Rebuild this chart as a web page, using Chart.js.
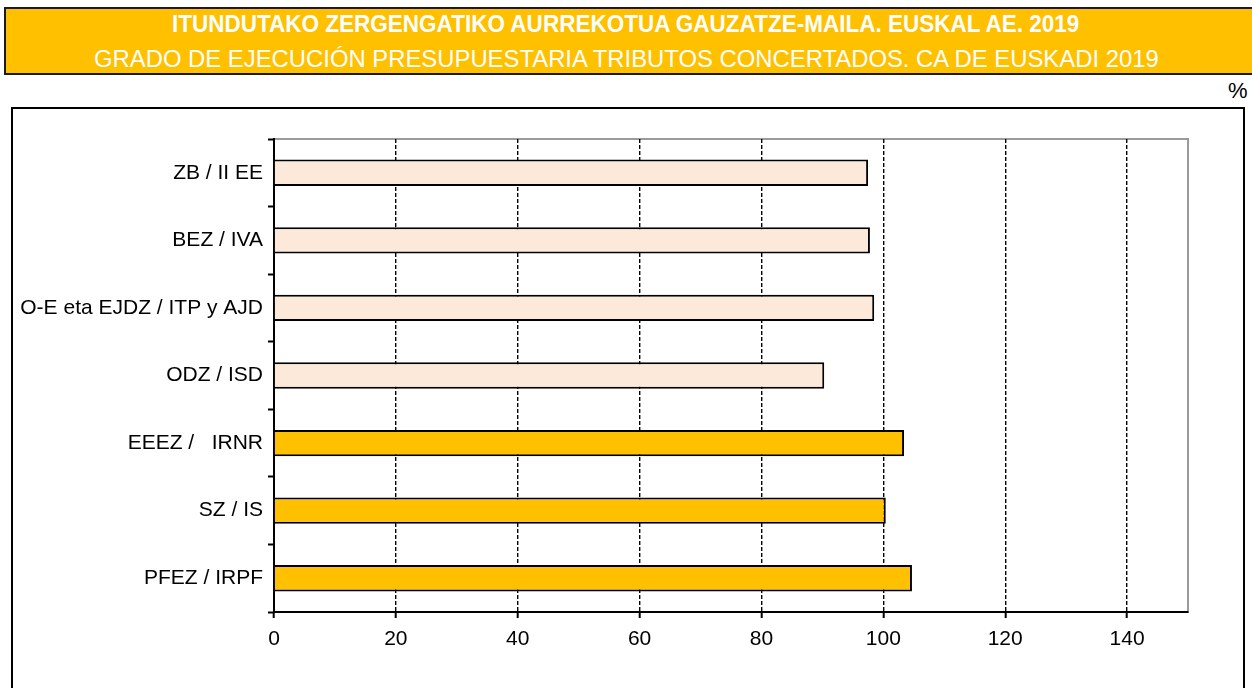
<!DOCTYPE html>
<html>
<head>
<meta charset="utf-8">
<script src="https://cdn.jsdelivr.net/npm/chart.js"></script>
<style>
    body { margin: 0; background: #fff; font-family: 'Liberation Sans', Arial, sans-serif; }
    #pagina { position: relative; width: 1252px; height: 688px; overflow: hidden; }
    #cabecera { position: absolute; left: 4px; top: 7px; width: 1260px; height: 64px;
        background: #FFC000; border: 2px solid #1a1a1a; }
    .titulo { position: absolute; left: 0; width: 1252px; text-align: center; color: #fff;
        font-size: 23px; line-height: 24px; white-space: nowrap; }
    .titulo span { display: inline-block; transform-origin: center; }
    #t1 { top: 12px; font-weight: bold; }
    #t2 { top: 47px; }
    #pct { position: absolute; left: 1228px; top: 78px; font-size: 22px; color: #000; }
    #marco { position: absolute; left: 11px; top: 107px; width: 1230px; height: 640px;
        border: 2px solid #000; }
    #miGrafico { position: absolute; left: 0; top: 0; }
</style>
</head>
<body>
<div id="pagina">
    <div id="cabecera"></div>
    <div class="titulo" id="t1"><span data-ancho="907">ITUNDUTAKO ZERGENGATIKO AURREKOTUA GAUZATZE-MAILA. EUSKAL AE. 2019</span></div>
    <div class="titulo" id="t2"><span data-ancho="1065">GRADO DE EJECUCIÓN PRESUPUESTARIA TRIBUTOS CONCERTADOS. CA DE EUSKADI 2019</span></div>
    <div id="pct">%</div>
    <div id="marco"></div>
    <canvas id="miGrafico" width="1252" height="688"></canvas>
</div>
<script>
    // Datos para el gráfico
    var categorias = ['ZB / II EE', 'BEZ / IVA', 'O-E eta EJDZ / ITP y AJD', 'ODZ / ISD',
                      'EEEZ /   IRNR', 'SZ / IS', 'PFEZ / IRPF'];
    var valores = [97.5, 97.8, 98.5, 90.3, 103.4, 100.4, 104.7];
    var tipoImpuesto = ['indirecto', 'indirecto', 'indirecto', 'indirecto', 'directo', 'directo', 'directo'];
    var marcasEje = [0, 20, 40, 60, 80, 100, 120, 140];

    var coloresTipo = { indirecto: '#FDE9D9', directo: '#FFC000' };

    // Ajusta el ancho de los títulos (letra estrecha)
    document.querySelectorAll('.titulo span').forEach(function (s) {
        var objetivo = parseFloat(s.getAttribute('data-ancho'));
        s.style.transform = 'scaleX(' + (objetivo / s.offsetWidth) + ')';
    });

    // Borde gris del área de trazado
    var bordeArea = {
        id: 'bordeArea',
        beforeDraw: function (chart) {
            var a = chart.chartArea, ctx = chart.ctx;
            ctx.save();
            ctx.strokeStyle = '#9a9a9a';
            ctx.lineWidth = 2;
            ctx.strokeRect(a.left, a.top, a.right - a.left, a.bottom - a.top);
            ctx.restore();
        }
    };

    var fuente = { family: "'Liberation Sans', Arial, sans-serif", size: 21 };

    var ctx = document.getElementById('miGrafico').getContext('2d');
    var miGrafico = new Chart(ctx, {
        type: 'bar',
        data: {
            labels: categorias,
            datasets: [{
                data: valores,
                backgroundColor: tipoImpuesto.map(function (t) { return coloresTipo[t]; }),
                borderColor: '#000',
                borderWidth: 2,
                barPercentage: 0.39,
                categoryPercentage: 1.0
            }]
        },
        options: {
            indexAxis: 'y',
            responsive: false,
            animation: false,
            layout: { padding: { top: 139, right: 64, left: 0, bottom: 0 } },
            plugins: { legend: { display: false }, tooltip: { enabled: false } },
            scales: {
                x: {
                    min: 0,
                    max: 150,
                    afterFit: function (s) { s.height = 76; },
                    afterBuildTicks: function (s) {
                        s.ticks = marcasEje.map(function (v) { return { value: v }; });
                    },
                    ticks: { color: '#000', font: fuente, padding: 9, maxRotation: 0 },
                    grid: { color: '#000', lineWidth: 1.4, tickLength: 6, tickColor: '#000', tickWidth: 2 },
                    border: { color: '#000', width: 2, dash: [4, 2] }
                },
                y: {
                    afterFit: function (s) { s.width = 274; },
                    ticks: { color: '#000', font: fuente, padding: 5 },
                    grid: { drawOnChartArea: false, tickLength: 6, color: '#000', tickWidth: 2 },
                    border: { color: '#000', width: 2 }
                }
            }
        },
        plugins: [bordeArea]
    });
</script>
</body>
</html>
